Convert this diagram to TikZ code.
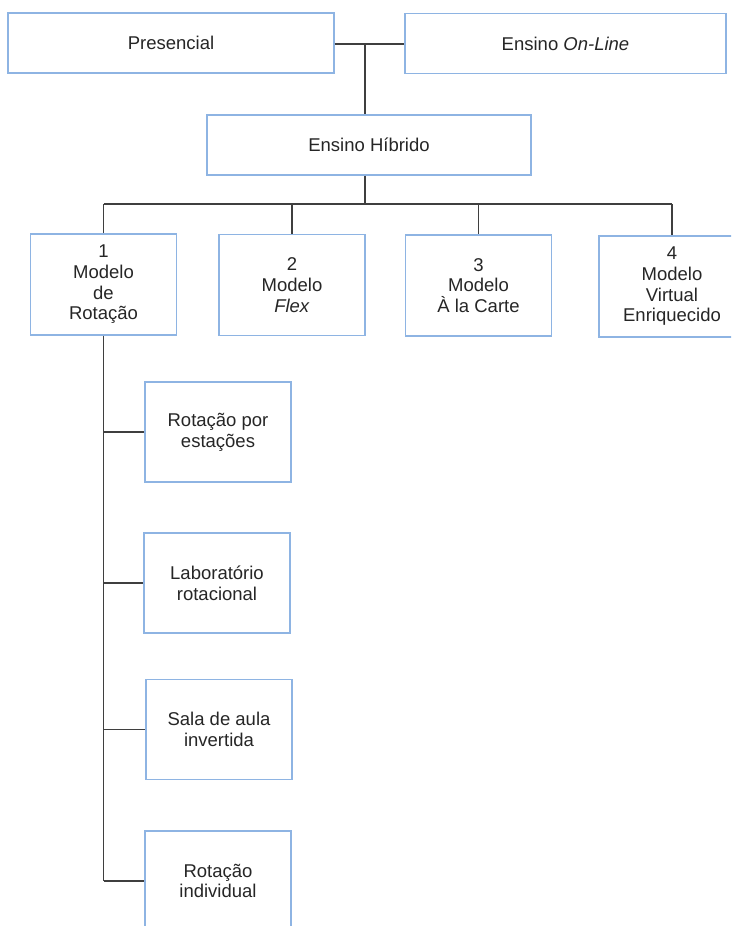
\documentclass[tikz,border=0pt]{standalone}
\usepackage{fontspec}
\setmainfont{Liberation Sans}
\begin{document}
\begin{tikzpicture}[x=1pt,y=-1pt,
  box/.style={draw=boxblue, line width=1.1pt, fill=white, inner sep=0pt,
    align=center, text=textgray, font=\fontsize{18.5}{20.7}\selectfont},
  wide/.style={box, minimum width=324pt, minimum height=60pt},
  small/.style={box, minimum width=146pt, minimum height=100pt},
  link/.style={draw=linegray, line width=1.3pt}]
\definecolor{boxblue}{HTML}{8EB4E3}
\definecolor{linegray}{HTML}{3F3F3F}
\definecolor{textgray}{HTML}{262626}
\useasboundingbox (0,0) rectangle (731,926);
\clip (0,0) rectangle (731,926);

% top level
\node[wide, minimum width=326pt] (pres) at (171,43) {Presencial};
\node[wide, minimum width=321pt] (online) at (565.5,43.5) {Ensino \textit{On-Line}};
\node[wide] (hib) at (369,145) {Ensino Híbrido};

% models
\node[small, minimum height=101pt] (m1) at (103.5,284.5) {1\\Modelo\\de\\Rotação};
\node[small, minimum height=101pt] (m2) at (292,285) {2\\Modelo\\\textit{Flex}};
\node[small, minimum height=101pt] (m3) at (478.5,285.5) {3\\Modelo\\À la Carte};
\node[small, minimum height=101pt] (m4) at (672,286.5) {4\\Modelo\\Virtual\\Enriquecido};

% rotation sub-models
\node[small] (s1) at (218,432) {Rotação por\\estações};
\node[small] (s2) at (217,583) {Laboratório\\rotacional};
\node[small] (s3) at (219,729.5) {Sala de aula\\invertida};
\node[small] (s4) at (218,881) {Rotação\\individual};

% connectors
\coordinate (join) at (365,44);
\coordinate (bus) at (365,204);
\draw[link] (pres.east |- join) -- (online.west |- join);
\draw[link] (join) -- (join |- hib.north);
\draw[link] (bus |- hib.south) -- (bus);
\draw[link] (m1.north |- bus) -- (m4.north |- bus);
\foreach \m in {m1,m2,m3,m4}
  \draw[link] (\m.north |- bus) -- (\m.north);
\draw[link] (m1.south) -- (m1.south |- s4.west);
\foreach \s in {s1,s2,s3,s4}
  \draw[link] (\s.west -| m1.south) -- (\s.west);
\end{tikzpicture}
\end{document}
